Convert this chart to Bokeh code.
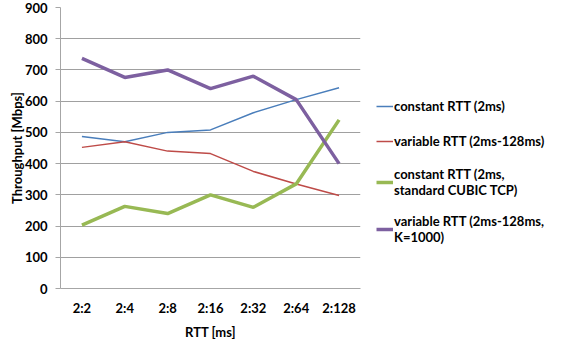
from bokeh.plotting import figure
from bokeh.models import Legend, LegendItem, FixedTicker, Range1d
from bokeh.embed import file_html
from bokeh.resources import INLINE

categories = ["2:2", "2:4", "2:8", "2:16", "2:32", "2:64", "2:128"]
const_rtt = [487, 470, 500, 508, 563, 605, 643]
var_rtt = [452, 470, 440, 432, 375, 335, 298]
const_cubic = [203, 263, 240, 300, 260, 335, 540]
var_k1000 = [737, 676, 700, 640, 680, 605, 400]
y_ticks = [0, 100, 200, 300, 400, 500, 600, 700, 800, 900]

FONT = "Lato"
FS = "13px"

p = figure(frame_width=300, frame_height=281, x_range=categories, y_range=Range1d(0, 900),
           output_backend="svg", toolbar_location=None,
           min_border_left=60, min_border_right=0, min_border_top=7, min_border_bottom=48)
p.outline_line_color = None
p.background_fill_color = "white"

r1 = p.line(categories, const_rtt, line_color="#4a7ebb", line_width=1.5)
r2 = p.line(categories, var_rtt, line_color="#be4b48", line_width=1.5)
r3 = p.line(categories, const_cubic, line_color="#98b954", line_width=3.5)
r4 = p.line(categories, var_k1000, line_color="#7d60a0", line_width=3.5)

p.yaxis.ticker = FixedTicker(ticks=y_ticks)
p.ygrid.grid_line_color = "#a0a0a0"
p.ygrid.grid_line_width = 1
p.xgrid.grid_line_color = None

for ax in (p.xaxis[0], p.yaxis[0]):
    ax.axis_line_color = "#a6a6a6"
    ax.major_label_text_font = FONT
    ax.major_label_text_font_style = "bold"
    ax.major_label_text_font_size = FS
    ax.major_label_text_color = "black"
    ax.axis_label_text_font = FONT
    ax.axis_label_text_font_style = "bold"
    ax.axis_label_text_font_size = FS
    ax.axis_label_text_color = "black"
    ax.minor_tick_line_color = None

p.xaxis.major_tick_line_color = None
p.xaxis.major_tick_out = 0
p.xaxis.major_tick_in = 0
p.xaxis.major_label_standoff = 11
p.xaxis.axis_label = "RTT [ms]"
p.xaxis.axis_label_standoff = 5

p.yaxis.major_tick_line_color = "#a6a6a6"
p.yaxis.major_tick_out = 5
p.yaxis.major_tick_in = 0
p.yaxis.major_label_standoff = 8
p.yaxis.axis_label = "Throughput [Mbps]"
p.yaxis.axis_label_standoff = -3

legend = Legend(items=[
    LegendItem(label="constant RTT (2ms)", renderers=[r1]),
    LegendItem(label="variable RTT (2ms-128ms)", renderers=[r2]),
    LegendItem(label="constant RTT (2ms,\nstandard CUBIC TCP)", renderers=[r3]),
    LegendItem(label="variable RTT (2ms-128ms,\nK=1000)", renderers=[r4]),
], location=(16, 43))
legend.border_line_color = None
legend.background_fill_alpha = 0
legend.label_text_font = FONT
legend.label_text_font_style = "bold"
legend.label_text_font_size = FS
legend.label_text_color = "black"
legend.glyph_width = 17
legend.label_standoff = 1
legend.spacing = 15
legend.padding = 0
legend.margin = 0
p.add_layout(legend, "right")

open("out.html", "w").write(file_html(p, INLINE))
